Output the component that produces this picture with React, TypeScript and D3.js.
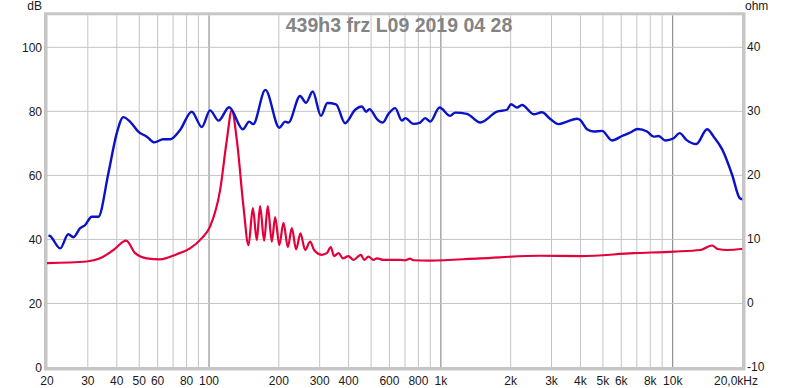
import React from 'react';
import * as d3 from 'd3';

// SPL response (dB)
const splFreq = [20.3, 20.6, 22.8, 24.7, 26.0, 27.8, 29.2, 31.2, 33.3, 36.8, 40.0, 42.7, 45.6, 49.5, 53.9, 58.1, 63.5, 67.9, 75.0, 84.2, 93.1, 101, 110, 122, 140, 149, 155, 175, 201, 213, 220, 247, 262, 280, 304, 324, 353, 386, 427, 456, 476, 492, 530, 562, 594, 635, 679, 702, 762, 814, 856, 900, 987, 1097, 1153, 1296, 1479, 1745, 1928, 2006, 2130, 2238, 2512, 2729, 2966, 3220, 3500, 3865, 3994, 4270, 4560, 4955, 5472, 6043, 6564, 7058, 7749, 8275, 8697, 9294, 10096, 10714, 11453, 12648, 14071, 15020, 16330, 18040, 19450, 20000];
const splDb = [41.3, 41.1, 37.2, 41.6, 40.7, 43.5, 44.5, 47.1, 47.1, 60.7, 73.2, 78.2, 76.8, 73.7, 72.1, 70.3, 71.3, 71.3, 74.2, 79.9, 75.1, 80.3, 77.1, 81.3, 74.4, 76.8, 76.0, 86.7, 74.9, 76.8, 76.5, 84.8, 82.7, 86.2, 78.6, 82.6, 82.2, 76.3, 80.5, 81.5, 79.9, 80.7, 77.6, 76.5, 79.2, 81.0, 77.1, 77.9, 76.1, 76.5, 77.9, 76.8, 81.2, 78.6, 79.6, 79.2, 76.5, 79.9, 80.5, 82.2, 81.2, 82.0, 79.1, 79.7, 77.6, 76.0, 76.8, 77.7, 77.3, 74.4, 73.7, 73.9, 70.9, 72.3, 73.4, 74.5, 73.7, 72.1, 72.3, 70.9, 71.6, 73.2, 71.1, 69.8, 74.4, 72.1, 68.2, 60.2, 52.9, 52.5];

// impedance (ohm)
const impFreq = [20, 29.7, 33.9, 38.7, 43.9, 48.0, 53.9, 61.5, 72.6, 82.8, 93.1, 101, 111.6, 119.3, 125.4, 131.8, 140.8, 148, 154.5, 160.7, 166, 172.8, 179.2, 186.5, 192.8, 201, 209.4, 218.7, 227.6, 237.5, 247.9, 259.7, 272.9, 284, 306.6, 322, 335, 346, 362, 378, 399, 420, 452, 467, 487, 512, 530, 566, 668, 700, 737, 760, 900, 1479, 2685, 3994, 6780, 10096, 13160, 14790, 15640, 17160, 19600, 20000];
const impOhm = [6.3, 6.55, 7.05, 8.35, 9.8, 7.85, 7.05, 6.9, 7.7, 8.6, 10.2, 12.0, 17.7, 25.5, 30.2, 25.5, 15.1, 9.1, 14.9, 9.9, 15.2, 9.8, 15.2, 9.65, 13.5, 9.1, 12.6, 8.8, 11.75, 8.45, 10.95, 8.35, 9.65, 8.35, 7.6, 7.85, 8.8, 7.4, 7.85, 7.05, 7.4, 6.8, 7.6, 6.8, 7.3, 6.8, 7.05, 6.8, 6.8, 6.75, 7.0, 6.75, 6.7, 7.05, 7.45, 7.4, 7.85, 8.1, 8.35, 9.05, 8.5, 8.35, 8.5, 8.55];

const freqTicks = [20, 30, 40, 50, 60, 80, 100, 200, 300, 400, 600, 800, 1000, 2000, 3000, 4000, 5000, 6000, 8000, 10000, 20000];
const freqLabels = ['20', '30', '40', '50', '60', '80', '100', '200', '300', '400', '600', '800', '1k', '2k', '3k', '4k', '5k', '6k', '8k', '10k', '20,0kHz'];
const dbTicks = [0, 20, 40, 60, 80, 100];
const ohmTicks = [-10, 0, 10, 20, 30, 40];
const title = '439h3 frz L09 2019 04 28';

const left = 47, right = 742.5, top = 15.3, bottom = 367.5;
const font = '"Liberation Sans", Arial, sans-serif';

export default function App() {
  const x = d3.scaleLog().domain([20, 20000]).range([left, right]);
  const yDb = d3.scaleLinear().domain([0, 110]).range([bottom, top]);
  const yOhm = d3.scaleLinear().domain([-10, 45]).range([bottom, top]);

  // log grid: 20..90, 100..900, 1k..9k, 10k, 20k
  const grid: number[] = [];
  [10, 100, 1000, 10000].forEach(d => {
    for (let k = 1; k <= 9; k++) {
      const v = d * k;
      if (v >= 20 && v <= 20000) grid.push(v);
    }
  });
  const dark = [100, 1000, 10000];

  const splLine = d3.line<number>()
    .x(i => x(splFreq[i]))
    .y(i => yDb(splDb[i]))
    .curve(d3.curveMonotoneX);
  const impLine = d3.line<number>()
    .x(i => x(impFreq[i]))
    .y(i => yOhm(impOhm[i]))
    .curve(d3.curveMonotoneX);

  const last = freqTicks.length - 1;

  return (
    <svg width={800} height={388} style={{ position: 'absolute', left: 0, top: 0, background: '#fff' }}>
      {grid.map(v => (
        <line key={'v' + v} x1={x(v)} x2={x(v)} y1={top} y2={bottom}
          stroke={dark.includes(v) ? '#7a7a7a' : '#c4c4c4'} strokeWidth={1} />
      ))}
      {dbTicks.map(v => (
        <line key={'h' + v} x1={left} x2={right} y1={yDb(v)} y2={yDb(v)} stroke="#c4c4c4" strokeWidth={1} />
      ))}
      <path d={impLine(d3.range(impFreq.length)) || ''} fill="none" stroke="#e4003a" strokeWidth={2.2} />
      <path d={splLine(d3.range(splFreq.length)) || ''} fill="none" stroke="#0a12c8" strokeWidth={2.4} />
      <rect x={left - 1.5} y={top - 1.5} width={right - left + 3} height={bottom - top + 3}
        fill="none" stroke="#c6c6c6" strokeWidth={3} />
      <g fontFamily={font} fontSize={12} fill="#1a1a1a">
        {dbTicks.map(v => (
          <text key={'l' + v} x={42} y={yDb(v)} dy="0.35em" textAnchor="end">{v}</text>
        ))}
        {ohmTicks.map(v => (
          <text key={'r' + v} x={747} y={yOhm(v) - 1} dy="0.35em" textAnchor="start">{v}</text>
        ))}
        {freqTicks.map((v, i) => (
          <text key={'b' + v} x={i === last ? 758 : x(v)} y={384.5}
            textAnchor={i === last ? 'end' : 'middle'}>{freqLabels[i]}</text>
        ))}
        <text x={42} y={10} textAnchor="end">dB</text>
        <text x={745} y={10} textAnchor="start">ohm</text>
      </g>
      <text x={399} y={31.5} textAnchor="middle" fontFamily={font} fontSize={19.5} fontWeight="bold" fill="#848484">{title}</text>
    </svg>
  );
}
